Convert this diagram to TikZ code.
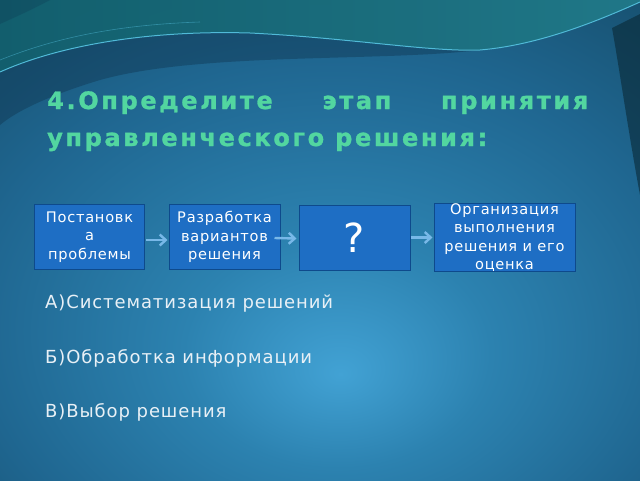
\documentclass[tikz,border=0pt]{standalone}
\usepackage{fontspec}
\setmainfont{DejaVu Sans}
\newfontfamily\spacedfont[LetterSpace=5]{DejaVu Sans}
\usetikzlibrary{arrows.meta}
\definecolor{bgcorner}{RGB}{8,36,47}
\definecolor{bgedge}{RGB}{14,58,80}
\definecolor{bgdeep}{RGB}{22,78,108}
\definecolor{bgmid}{RGB}{31,102,144}
\definecolor{bglite}{RGB}{44,130,176}
\definecolor{bgglow}{RGB}{66,162,212}
\definecolor{wavel}{RGB}{20,104,120}
\definecolor{waver}{RGB}{36,132,150}
\definecolor{wavedark}{RGB}{14,50,76}
\definecolor{swoosh}{RGB}{80,186,216}
\definecolor{titlec}{RGB}{82,214,160}
\definecolor{boxc}{RGB}{30,110,196}
\definecolor{boxline}{RGB}{14,74,140}
\definecolor{arrc}{RGB}{120,184,232}
\definecolor{textc}{RGB}{232,240,246}
\pgfdeclareradialshading{slideglow}{\pgfpoint{1.6bp}{-14bp}}{color(0bp)=(bgglow); color(12bp)=(bglite); color(28bp)=(bgmid); color(42bp)=(bgdeep); color(55bp)=(bgedge); color(75bp)=(bgcorner)}

\begin{document}
\begin{tikzpicture}[x=1pt,y=-1pt]
\useasboundingbox (0,0) rectangle (640,480);
% background
\fill[shading=slideglow] (0,0) rectangle (640,480);
\fill[wavedark,opacity=0.4] (0,72) .. controls (60,45) and (150,30) .. (250,33) .. controls (350,38) and (430,52) .. (480,50) .. controls (380,62) and (200,52) .. (100,80) .. controls (60,92) and (20,108) .. (0,125) -- cycle;
\fill[left color=wavel,right color=waver,opacity=0.9] (0,0) -- (640,0) -- (640,2) .. controls (600,20) and (540,45) .. (480,50) .. controls (430,52) and (350,38) .. (250,33) .. controls (150,30) and (60,45) .. (0,72) -- cycle;
\fill[wavedark,opacity=0.25] (0,0) -- (50,0) .. controls (35,8) and (18,16) .. (0,24) -- cycle;
\fill[bgcorner,opacity=0.55] (612,28) .. controls (618,60) and (628,130) .. (640,195) -- (640,14) -- cycle;
\draw[swoosh,line width=1pt] (0,72) .. controls (60,45) and (150,30) .. (250,33) .. controls (350,38) and (430,52) .. (480,50) .. controls (540,45) and (600,20) .. (640,2);
\draw[swoosh,line width=0.6pt,opacity=0.5] (0,60) .. controls (50,40) and (110,25) .. (200,22);
% title
\tikzset{title/.style={titlec,font=\fontsize{24}{24}\selectfont\bfseries\addfontfeatures{LetterSpace=11,FakeBold=1.2},anchor=base west,inner sep=0pt}}
\node[title] (t1) at (47,109) {\hbox to 541pt{4.Определите\hfill этап\hfill принятия}};
\node[title] (t2) at (47,146) {управленческого решения:};
% chain of steps
\tikzset{stepbox/.style={draw=boxline,line width=1pt,fill=boxc,text=white,minimum height=65pt,align=center,inner sep=0pt,font=\spacedfont\fontsize{14.6}{18.6}\selectfont},
  flow/.style={arrc,line width=2.4pt,-{Straight Barb[length=6pt,width=11pt]}}}
\node[stepbox,minimum width=110pt] (b1) at (89.5,237) {Постановк\\а\\проблемы};
\node[stepbox,minimum width=111pt] (b2) at (224.5,237) {Разработка\\вариантов\\решения};
\node[stepbox,minimum width=111pt,font=\fontsize{40}{40}\selectfont] (b3) at (354.5,237.5) {?};
\node[stepbox,minimum width=141pt] (b4) at (504.5,237.5) {Организация\\выполнения\\решения и его\\оценка};
\draw[flow] ([xshift=1pt,yshift=-3pt]b1.east) -- ([xshift=-1pt,yshift=-3pt]b2.west);
\draw[flow] ([xshift=-6pt,yshift=-1pt]b2.east) -- ([xshift=-2pt,yshift=-1pt]b3.west);
\draw[flow] (b3.east) -- ([xshift=-1pt]b4.west);
% answers
\tikzset{answer/.style={textc,font=\spacedfont\fontsize{18}{18}\selectfont,anchor=base west,inner sep=0pt}}
\node[answer] (a1) at (45,308) {А)Систематизация решений};
\node[answer] (a2) at (45,363) {Б)Обработка информации};
\node[answer] (a3) at (45,417) {В)Выбор решения};
\end{tikzpicture}
\end{document}
